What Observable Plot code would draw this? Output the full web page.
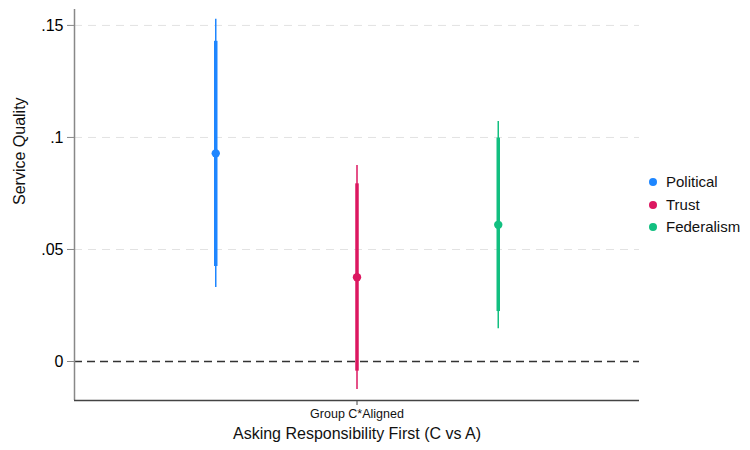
<!DOCTYPE html>
<html>
<head>
<meta charset="utf-8">
<script src="https://cdn.jsdelivr.net/npm/d3@7"></script>
<script src="https://cdn.jsdelivr.net/npm/@observablehq/plot@0.6"></script>
<style>
  body { margin: 0; background: #fff; font-family: "Liberation Sans", Arial, sans-serif; }
  #wrap { position: relative; width: 750px; height: 450px; }
  #legend { position: absolute; left: 649px; top: 171px; font-size: 15px; color: #111; line-height: 22.5px; }
  #legend .it { display: flex; align-items: center; }
  #legend .sw { width: 8px; height: 8px; border-radius: 50%; margin-right: 9px; }
</style>
</head>
<body>
<div id="wrap"><div id="chart"></div><div id="legend"></div></div>
<script>
const series = ["Political", "Trust", "Federalism"];
const colors = ["#1e86ff", "#dc1760", "#12bf80"];
const estimate = [0.0929, 0.0376, 0.0610];
const ci95Lo = [0.0330, -0.0125, 0.0146];
const ci95Hi = [0.1527, 0.0875, 0.1071];
const ci90Lo = [0.0424, -0.0043, 0.0223];
const ci90Hi = [0.1429, 0.0793, 0.0997];
const groupLabel = "Group C*Aligned";
const yTicks = [0, 0.05, 0.1, 0.15];
const yTickLabels = ["0", ".05", ".1", ".15"];

const data = series.map((s, i) => ({
  series: s, pos: i + 1, est: estimate[i],
  lo95: ci95Lo[i], hi95: ci95Hi[i], lo90: ci90Lo[i], hi90: ci90Hi[i]
}));

const plot = Plot.plot({
  width: 750, height: 450,
  marginLeft: 74, marginRight: 111, marginTop: 9, marginBottom: 50,
  style: { fontFamily: "'Liberation Sans', Arial, sans-serif", background: "#fff" },
  x: { domain: [0, 4], axis: null },
  y: { domain: [-0.0174, 0.1571], axis: null },
  color: { domain: series, range: colors },
  marks: [
    Plot.ruleY(yTicks.filter(d => d !== 0), { stroke: "#e2e2e2", strokeWidth: 1, strokeDasharray: "8,6" }),
    Plot.ruleY([0], { stroke: "#333", strokeWidth: 1.5, strokeDasharray: "8,5" }),
    Plot.ruleX([0], { stroke: "#888", strokeWidth: 1.5 }),
    Plot.ruleY([-0.0174], { stroke: "#444", strokeWidth: 1.3 }),
    Plot.axisY({ ticks: yTicks, tickFormat: (d) => yTickLabels[yTicks.indexOf(d)], tickSize: 7, tickPadding: 4, fontSize: 16, stroke: "#888", fill: "#000", label: null }),
    Plot.axisX({ ticks: [2], tickFormat: () => groupLabel, tickSize: 5, tickPadding: 4, fontSize: 12.5, stroke: "#444", fill: "#111", label: null }),
    Plot.text(["Service Quality"], { frameAnchor: "left", rotate: -90, dx: -55, fontSize: 16, fill: "#111" }),
    Plot.text(["Asking Responsibility First (C vs A)"], { frameAnchor: "bottom", x: 2, dy: 38, fontSize: 16, fill: "#111" }),
    Plot.ruleX(data, { x: "pos", y1: "lo95", y2: "hi95", stroke: "series", strokeWidth: 1.5 }),
    Plot.ruleX(data, { x: "pos", y1: "lo90", y2: "hi90", stroke: "series", strokeWidth: 3.5 }),
    Plot.dot(data, { x: "pos", y: "est", fill: "series", r: 4.2 })
  ]
});
document.getElementById("chart").appendChild(plot);

const lg = document.getElementById("legend");
series.forEach((s, i) => {
  const d = document.createElement("div");
  d.className = "it";
  d.innerHTML = `<span class="sw" style="background:${colors[i]}"></span><span>${s}</span>`;
  lg.appendChild(d);
});
</script>
</body>
</html>
